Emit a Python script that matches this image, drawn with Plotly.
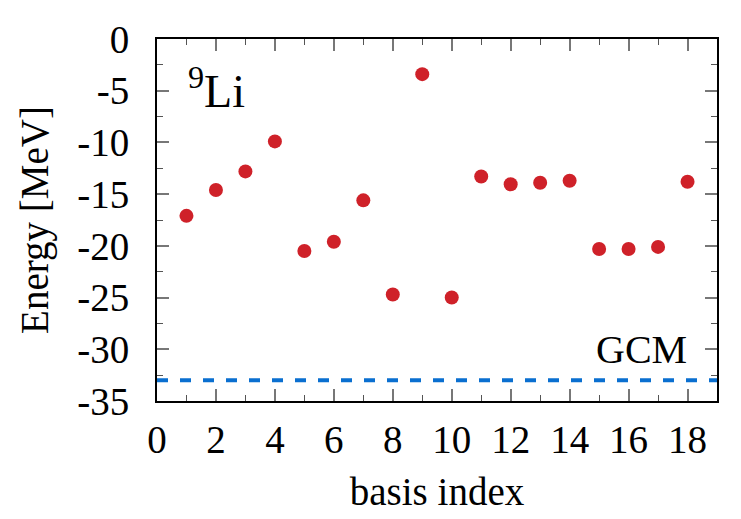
import plotly.graph_objects as go

# basis states and their energies (MeV)
basis_index = list(range(1, 19))
energy = [-17.1, -14.6, -12.8, -9.9, -20.5, -19.6, -15.6, -24.7, -3.4,
          -25.0, -13.3, -14.05, -13.9, -13.7, -20.3, -20.3, -20.1, -13.8]

gcm_energy = -33.0

y_ticks = [0, -5, -10, -15, -20, -25, -30, -35]
x_ticks = [0, 2, 4, 6, 8, 10, 12, 14, 16, 18]

FONT = "Liberation Serif"
FS = 39

# the page body has an 8px default margin, so the figure is made 8px smaller
PAGE_PAD = 8

fig = go.Figure()

# GCM reference line
fig.add_trace(go.Scatter(
    x=[0, 19],
    y=[gcm_energy, gcm_energy],
    mode="lines",
    line=dict(color="#0a6fd0", width=4, dash="11px,12px"),
    showlegend=False,
    hoverinfo="skip",
))

# basis energies
fig.add_trace(go.Scatter(
    x=basis_index,
    y=energy,
    mode="markers",
    marker=dict(size=14, color="#cf2129", line=dict(width=0)),
    showlegend=False,
))

fig.add_annotation(
    x=0.97, y=-4.75, xref="x", yref="y",
    text="<sup>9</sup>Li", showarrow=False,
    xanchor="left", yanchor="middle",
    font=dict(family=FONT, size=46, color="black"),
)
fig.add_annotation(
    x=18.05, y=-30.0, xref="x", yref="y",
    text="GCM", showarrow=False,
    xanchor="right", yanchor="middle",
    font=dict(family=FONT, size=40, color="black"),
)

axis_common = dict(
    showgrid=False,
    zeroline=False,
    showline=True,
    linecolor="black",
    linewidth=2,
    mirror="allticks",
    ticks="inside",
    ticklen=12,
    tickwidth=1.5,
    tickcolor="#777777",
    tickfont=dict(family=FONT, size=FS, color="black"),
    automargin=False,
)

fig.update_xaxes(
    range=[0, 19],
    tickvals=x_ticks,
    ticktext=[str(v) for v in x_ticks],
    minor=dict(ticks="inside", ticklen=6, dtick=1, tickcolor="#555555", tickwidth=1),
    ticklabelstandoff=3,
    title=dict(text="basis index", font=dict(family=FONT, size=FS, color="black"), standoff=18),
    **axis_common,
)
fig.update_yaxes(
    range=[-35, 0],
    tickvals=y_ticks,
    ticktext=[str(v) for v in y_ticks],
    minor=dict(ticks="inside", ticklen=6, dtick=2.5, tickcolor="#555555", tickwidth=1),
    ticklabelstandoff=18,
    title=dict(text="Energy [MeV]", font=dict(family=FONT, size=FS, color="black"), standoff=17),
    **axis_common,
)

fig.update_layout(
    width=741 - PAGE_PAD,
    height=519 - PAGE_PAD,
    margin=dict(l=157 - PAGE_PAD, r=24, t=39 - PAGE_PAD, b=118),
    plot_bgcolor="white",
    paper_bgcolor="white",
    font=dict(family=FONT, size=FS, color="black"),
)

fig.write_html("out.html")
